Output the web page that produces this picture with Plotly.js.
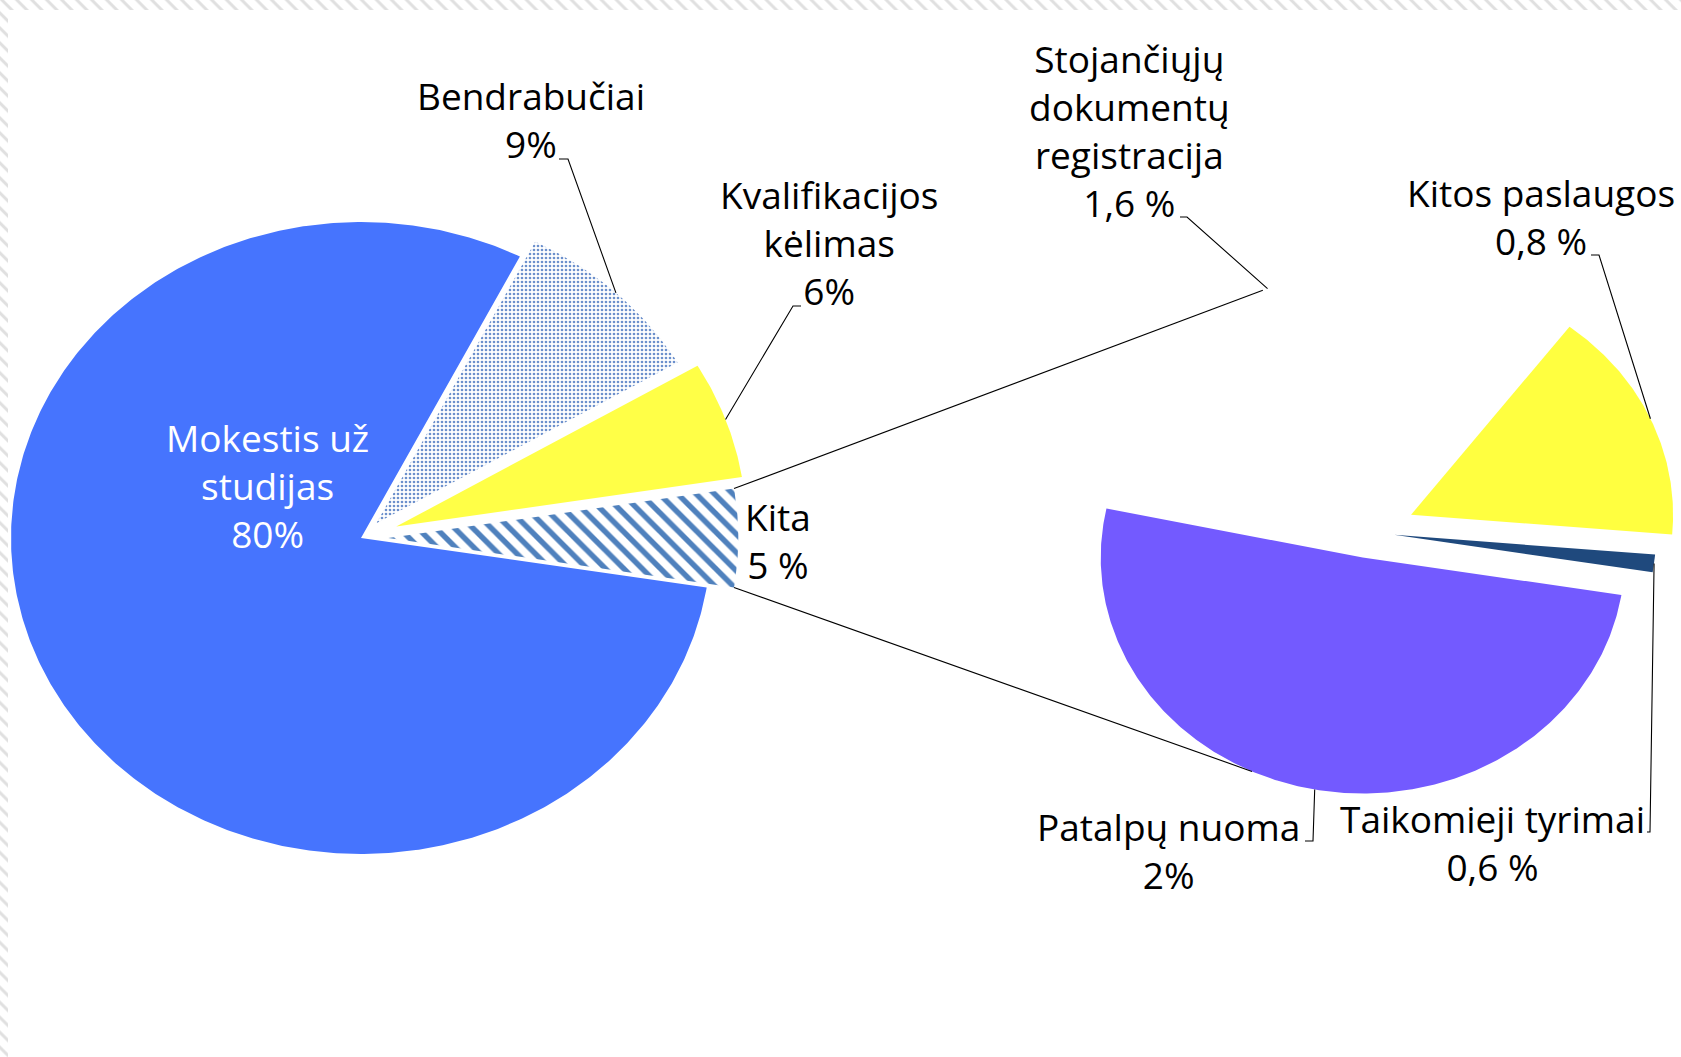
<!DOCTYPE html>
<html>
<head>
<meta charset="utf-8">
<script src="https://cdn.plot.ly/plotly-3.0.1.min.js"></script>
<style>
html,body{margin:0;padding:0;width:1681px;height:1057px;overflow:hidden;}
body{background:repeating-linear-gradient(45deg,#ffffff 0px,#ffffff 4.5px,#e0e0e0 6px,#e0e0e0 7.5px,#ffffff 9px,#ffffff 10.6px);}
#sheet{position:absolute;left:8px;top:10px;right:0;bottom:0;background:#ffffff;}
#chart{position:absolute;left:0;top:0;width:1681px;height:1057px;}
</style>
</head>
<body>
<div id="sheet"></div>
<div id="chart"></div>
<script>
// ---- data ----
const mainLabels = ['Mokestis už studijas', 'Bendrabučiai', 'Kvalifikacijos kėlimas', 'Kita'];
const mainValues = [80, 9, 6, 5];
const mainText = ['Mokestis už<br>studijas<br>80%', 'Bendrabučiai<br>9%', 'Kvalifikacijos<br>kėlimas<br>6%', 'Kita<br>5 %'];

const subLabels = ['Stojančiųjų dokumentų registracija', 'Kitos paslaugos', 'Taikomieji tyrimai', 'Patalpų nuoma'];
const subValues = [1.6, 0.8, 0.06, 2.54];
const subText = ['Stojančiųjų<br>dokumentų<br>registracija<br>1,6 %', 'Kitos paslaugos<br>0,8 %', 'Taikomieji tyrimai<br>0,6 %', 'Patalpų nuoma<br>2%'];

// ---- styles / geometry settings ----
const FONT = '"Open Sans", "Noto Sans", sans-serif';
const FS = 37;
const mainGeo = {cx: 361, cy: 538, rx: 350, ry: 316, pull: [0, 0.064, 0.107, 0.078]};
const subGeo = {cx: 1368, cy: 532, rx: 262, ry: 236, start: 168, pull: [0.1, 0.18, 0.1, 0.11]};

const mainStyle = [
  {fillcolor: '#4674FE'},
  {fillcolor: 'rgba(0,0,0,0)', fillpattern: {shape: '.', fgcolor: '#6C90CC', bgcolor: '#ffffff', size: 4, solidity: 0.35}},
  {fillcolor: '#FFFF47'},
  {fillcolor: 'rgba(0,0,0,0)', fillpattern: {shape: '\\', fgcolor: '#4F81BD', bgcolor: '#ffffff', size: 13, solidity: 0.42}}
];
const subStyle = [
  {fillcolor: 'rgba(0,0,0,0)'},
  {fillcolor: '#FFFF40'},
  {fillcolor: '#1F497D'},
  {fillcolor: '#735AFF'}
];

// label placement (centre of text block) and leader elbow points
const mainLabelPos = [[267, 485, 'white'], [531, 119, 'black'], [829, 242, 'black'], [778, 540, 'black']];
const mainLeader = [null, [[568, 159], [559, 159]], [[793, 306], [801, 306]], null];
const subLabelPos = [[1129, 130], [1541, 216], [1492, 842], [1168, 850]];
const subLeader = [[[1187, 217], [1180, 217]], [[1599, 255], [1591, 255]], [[1650, 832], [1647, 832]], [[1313, 841], [1305, 841]]];

// ---- geometry from values ----
const D = Math.PI / 180;
function buildSlices(values, geo, startDeg) {
  const total = values.reduce((a, b) => a + b, 0);
  let a = startDeg;
  return values.map((v, i) => {
    const a0 = a, a1 = a - v / total * 360;  // clockwise
    a = a1;
    const mid = (a0 + a1) / 2;
    const ox = geo.cx + geo.pull[i] * geo.rx * Math.cos(mid * D);
    const oy = geo.cy - geo.pull[i] * geo.ry * Math.sin(mid * D);
    const xs = [ox], ys = [oy];
    const n = Math.max(3, Math.ceil(Math.abs(a0 - a1) * 2));
    for (let k = 0; k <= n; k++) {
      const t = (a0 + (a1 - a0) * k / n) * D;
      xs.push(ox + geo.rx * Math.cos(t));
      ys.push(oy - geo.ry * Math.sin(t));
    }
    xs.push(ox); ys.push(oy);
    const arc = (deg) => [ox + geo.rx * Math.cos(deg * D), oy - geo.ry * Math.sin(deg * D)];
    return {xs, ys, a0, a1, mid, arc};
  });
}

const mainTotal = mainValues.reduce((a, b) => a + b, 0);
const mainStart = -mainValues[mainValues.length - 1] / mainTotal * 180;
const mainSlices = buildSlices(mainValues, mainGeo, mainStart);
const subSlices = buildSlices(subValues, subGeo, subGeo.start);

const traces = [];
mainSlices.forEach((s, i) => {
  traces.push(Object.assign({
    type: 'scatter', mode: 'lines', x: s.xs, y: s.ys, fill: 'toself',
    line: {width: 0, color: 'rgba(0,0,0,0)'}, name: mainLabels[i], hoverinfo: 'name'
  }, mainStyle[i]));
});
subSlices.forEach((s, i) => {
  traces.push(Object.assign({
    type: 'scatter', mode: 'lines', x: s.xs, y: s.ys, fill: 'toself',
    line: {width: 0, color: 'rgba(0,0,0,0)'}, name: subLabels[i], hoverinfo: 'name'
  }, subStyle[i]));
});

// leader lines: from slice arc midpoint to the label
function leaderTrace(p0, pts) {
  return {type: 'scatter', mode: 'lines', x: [p0[0]].concat(pts.map(p => p[0])),
    y: [p0[1]].concat(pts.map(p => p[1])), line: {color: '#000000', width: 1.1}, hoverinfo: 'skip'};
}
mainSlices.forEach((s, i) => { if (mainLeader[i]) traces.push(leaderTrace(s.arc(s.mid), mainLeader[i])); });
subSlices.forEach((s, i) => { if (subLeader[i]) traces.push(leaderTrace(s.arc(s.mid), subLeader[i])); });

// pie-of-pie connector lines from the "Kita" slice to the secondary pie
const kita = mainSlices[mainSlices.length - 1];
const upperEnd = subSlices[0].arc(111.5);
const lowerEnd = subSlices[subSlices.length - 1].arc(245);
traces.push(leaderTrace(kita.arc(kita.a0), [upperEnd]));
traces.push(leaderTrace(kita.arc(kita.a1), [lowerEnd]));

// annotations (labels)
const annotations = [];
mainText.forEach((t, i) => {
  annotations.push({x: mainLabelPos[i][0], y: mainLabelPos[i][1], text: t, showarrow: false,
    xanchor: 'center', yanchor: 'middle', font: {family: FONT, size: FS, color: mainLabelPos[i][2]}});
});
subText.forEach((t, i) => {
  annotations.push({x: subLabelPos[i][0], y: subLabelPos[i][1], text: t, showarrow: false,
    xanchor: 'center', yanchor: 'middle', font: {family: FONT, size: FS, color: '#000000'}});
});

const layout = {
  width: 1681, height: 1057,
  margin: {l: 0, r: 0, t: 0, b: 0},
  paper_bgcolor: 'rgba(0,0,0,0)', plot_bgcolor: 'rgba(0,0,0,0)',
  showlegend: false,
  xaxis: {range: [0, 1681], visible: false, fixedrange: true},
  yaxis: {range: [1057, 0], visible: false, fixedrange: true},
  annotations: annotations
};

Plotly.newPlot('chart', traces, layout, {displayModeBar: false, staticPlot: true});
</script>
</body>
</html>
